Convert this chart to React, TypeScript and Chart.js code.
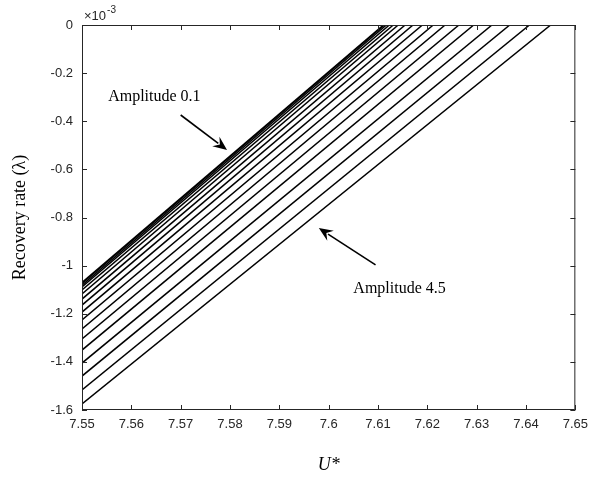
import React, { useEffect, useRef } from "react";
import { Chart, registerables } from "chart.js";

Chart.register(...registerables);

// Recovery-rate lines (units of 1e-3), one per amplitude, from smallest (0.1) to largest (4.5)
const startU = 7.55;
const startLambda = [
  -1.070, -1.074, -1.081, -1.089, -1.101, -1.118, -1.139, -1.164, -1.193,
  -1.226, -1.263, -1.305, -1.351, -1.405, -1.459, -1.517, -1.575,
];
const zeroCrossU = [
  7.6111, 7.6113, 7.6117, 7.6123, 7.6131, 7.6141, 7.6155, 7.6171, 7.619,
  7.6212, 7.6236, 7.6264, 7.6294, 7.6331, 7.6367, 7.6407, 7.645,
];
const xTicks = [7.55, 7.56, 7.57, 7.58, 7.59, 7.6, 7.61, 7.62, 7.63, 7.64, 7.65];
const yTicks = [0, -0.2, -0.4, -0.6, -0.8, -1, -1.2, -1.4, -1.6];

// annotations: label, text position, arrow from -> to (data units)
const annotLabels = ["Amplitude 0.1", "Amplitude 4.5"];
const annotText = [
  [7.5553, -0.299],
  [7.605, -1.097],
];
const annotArrow = [
  [7.570, -0.374, 7.5794, -0.519],
  [7.6095, -0.997, 7.598, -0.844],
];

const AX = "#262626";

const decorPlugin = {
  id: "decor",
  afterDraw(chart: any) {
    const ctx = chart.ctx;
    const xs = chart.scales.x;
    const ys = chart.scales.y;
    const { left, right, top, bottom } = chart.chartArea;
    ctx.save();
    ctx.strokeStyle = AX;
    ctx.lineWidth = 1;
    ctx.beginPath();
    ctx.rect(left + 0.5, top + 0.5, right - left - 1, bottom - top - 1);
    ctx.stroke();
    const tl = 5;
    ctx.beginPath();
    xTicks.forEach((v) => {
      const px = Math.round(xs.getPixelForValue(v)) + 0.5;
      ctx.moveTo(px, bottom);
      ctx.lineTo(px, bottom - tl);
      ctx.moveTo(px, top);
      ctx.lineTo(px, top + tl);
    });
    yTicks.forEach((v) => {
      const py = Math.round(ys.getPixelForValue(v)) + 0.5;
      ctx.moveTo(left, py);
      ctx.lineTo(left + tl, py);
      ctx.moveTo(right, py);
      ctx.lineTo(right - tl, py);
    });
    ctx.stroke();

    // exponent label
    ctx.fillStyle = AX;
    ctx.textBaseline = "alphabetic";
    ctx.textAlign = "left";
    ctx.font = "13px 'Liberation Sans', Arial, sans-serif";
    ctx.fillText("\u00d710", left + 2, top - 5);
    const w = ctx.measureText("\u00d710").width;
    ctx.font = "10px 'Liberation Sans', Arial, sans-serif";
    ctx.fillText("-3", left + 2 + w + 1, top - 12);

    // annotations
    ctx.fillStyle = "#000";
    ctx.strokeStyle = "#000";
    ctx.font = "16px 'Liberation Serif', 'Times New Roman', serif";
    ctx.textBaseline = "middle";
    annotLabels.forEach((lab, i) => {
      const [tu, tlam] = annotText[i];
      ctx.fillText(lab, xs.getPixelForValue(tu), ys.getPixelForValue(tlam));
      const [fu, fl, tu2, tl2] = annotArrow[i];
      const x1 = xs.getPixelForValue(fu);
      const y1 = ys.getPixelForValue(fl);
      const x2 = xs.getPixelForValue(tu2);
      const y2 = ys.getPixelForValue(tl2);
      const ang = Math.atan2(y2 - y1, x2 - x1);
      const hl = 14;
      const hw = 6;
      const bx = x2 - hl * Math.cos(ang);
      const by = y2 - hl * Math.sin(ang);
      ctx.lineWidth = 1.6;
      ctx.beginPath();
      ctx.moveTo(x1, y1);
      ctx.lineTo(bx + 3 * Math.cos(ang), by + 3 * Math.sin(ang));
      ctx.stroke();
      ctx.beginPath();
      ctx.moveTo(x2, y2);
      ctx.lineTo(bx - hw * Math.sin(ang), by + hw * Math.cos(ang));
      ctx.lineTo(bx + 5 * Math.cos(ang), by + 5 * Math.sin(ang));
      ctx.lineTo(bx + hw * Math.sin(ang), by - hw * Math.cos(ang));
      ctx.closePath();
      ctx.fill();
    });
    ctx.restore();
  },
};

export default function App() {
  const ref = useRef<HTMLCanvasElement>(null);
  useEffect(() => {
    document.body.style.margin = "0";
    const datasets = startLambda.map((s, i) => ({
      data: [
        { x: startU, y: s },
        { x: zeroCrossU[i], y: 0 },
      ],
      borderColor: "#000",
      borderWidth: 1.5,
      pointRadius: 0,
      fill: false,
      tension: 0,
    }));
    const chart = new Chart(ref.current as HTMLCanvasElement, {
      type: "line",
      data: { datasets },
      plugins: [decorPlugin],
      options: {
        animation: false,
        responsive: false,
        devicePixelRatio: 1,
        layout: { padding: { left: 0, right: 17, top: 25, bottom: 0 } },
        plugins: { legend: { display: false }, tooltip: { enabled: false } },
        scales: {
          x: {
            type: "linear",
            min: 7.55,
            max: 7.65,
            afterFit: (s: any) => {
              s.height = 67;
            },
            afterBuildTicks: (s: any) => {
              s.ticks = xTicks.map((v) => ({ value: v }));
            },
            grid: { display: false, drawTicks: false },
            border: { display: false },
            ticks: {
              padding: 7,
              color: AX,
              font: { family: "'Liberation Sans', Arial, sans-serif", size: 13 },
              maxRotation: 0,
              callback: (v: any) => parseFloat(Number(v).toFixed(2)).toString(),
            },
            title: {
              display: true,
              text: "U*",
              color: "#000",
              padding: { top: 0, bottom: 1 },
              font: { family: "'Liberation Serif', 'Times New Roman', serif", size: 18, style: "italic" },
            },
          },
          y: {
            type: "linear",
            min: -1.6,
            max: 0,
            afterFit: (s: any) => {
              s.width = 82;
            },
            afterBuildTicks: (s: any) => {
              s.ticks = yTicks.map((v) => ({ value: v }));
            },
            grid: { display: false, drawTicks: false },
            border: { display: false },
            ticks: {
              padding: 9,
              color: AX,
              font: { family: "'Liberation Sans', Arial, sans-serif", size: 13 },
              callback: (v: any) => parseFloat(Number(v).toFixed(1)).toString(),
            },
            title: {
              display: true,
              text: "Recovery rate (\u03bb)",
              color: "#000",
              padding: { top: 9, bottom: 0 },
              font: { family: "'Liberation Serif', 'Times New Roman', serif", size: 18 },
            },
          },
        },
      },
    } as any);
    return () => chart.destroy();
  }, []);
  return <canvas ref={ref} width={595} height={477} style={{ display: "block" }} />;
}
